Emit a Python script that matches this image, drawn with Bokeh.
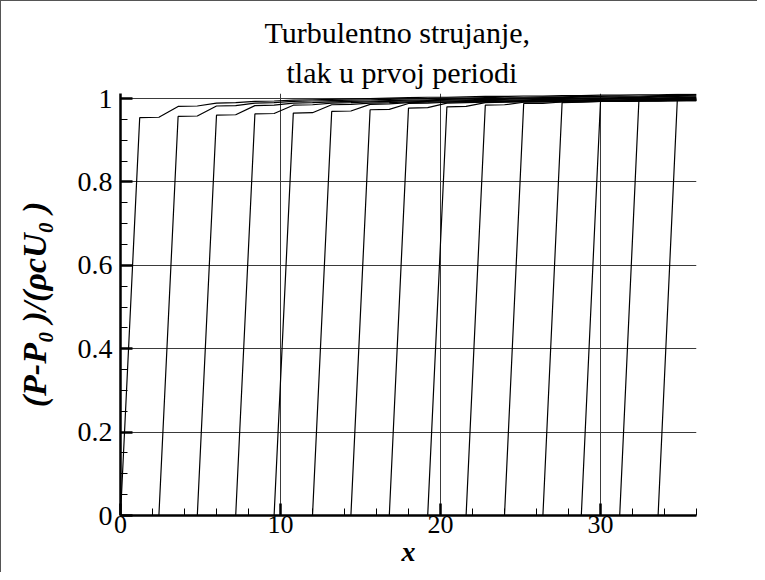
from bokeh.plotting import figure
from bokeh.models import Range1d, FixedTicker, Title
from bokeh.embed import file_html
from bokeh.resources import INLINE

# ---------------- data ----------------
X_GRID = [0.0, 1.2, 2.4, 3.6, 4.8, 6.0, 7.2, 8.4, 9.6, 10.8, 12.0, 13.2, 14.4,
          15.6, 16.8, 18.0, 19.2, 20.4, 21.6, 22.8, 24.0, 25.2, 26.4, 27.6,
          28.8, 30.0, 31.2, 32.4, 33.6, 34.8, 36.0]

# x position where each pressure front starts (value 0 there)
FRONT_X = [0.0, 2.4, 4.8, 7.2, 9.6, 12.0, 14.4, 16.8, 19.2, 21.6, 24.0,
           26.4, 28.8, 31.2, 33.6]

P_01 = [0, 0.954, 0.955, 0.981, 0.982, 0.989, 0.990, 0.993, 0.994, 0.996, 0.997,
        0.998, 0.999, 1.000, 1.001, 1.002, 1.003, 1.003, 1.004, 1.005, 1.005,
        1.006, 1.006, 1.007, 1.007, 1.008, 1.008, 1.009, 1.009, 1.010, 1.010]
P_02 = [0, 0.957, 0.958, 0.982, 0.983, 0.989, 0.990, 0.993, 0.994, 0.995, 0.996,
        0.997, 0.998, 0.999, 1.000, 1.001, 1.001, 1.002, 1.003, 1.003, 1.004,
        1.004, 1.005, 1.005, 1.006, 1.006, 1.007, 1.007, 1.008]
P_03 = [0, 0.960, 0.961, 0.983, 0.984, 0.989, 0.990, 0.992, 0.993, 0.994, 0.995,
        0.996, 0.997, 0.998, 0.999, 1.000, 1.000, 1.001, 1.002, 1.002, 1.003,
        1.003, 1.004, 1.004, 1.005, 1.005, 1.006]
P_04 = [0, 0.963, 0.964, 0.984, 0.985, 0.989, 0.990, 0.992, 0.993, 0.994, 0.995,
        0.996, 0.997, 0.998, 0.998, 0.999, 1.000, 1.000, 1.001, 1.001, 1.002,
        1.002, 1.003, 1.003, 1.004]
P_05 = [0, 0.965, 0.966, 0.985, 0.986, 0.989, 0.990, 0.992, 0.993, 0.994, 0.995,
        0.995, 0.996, 0.997, 0.998, 0.998, 0.999, 1.000, 1.000, 1.001, 1.001,
        1.002, 1.002]
P_06 = [0, 0.969, 0.970, 0.986, 0.987, 0.990, 0.991, 0.992, 0.993, 0.994, 0.994,
        0.995, 0.996, 0.997, 0.997, 0.998, 0.999, 0.999, 1.000, 1.000, 1.001]
P_07 = [0, 0.973, 0.974, 0.988, 0.989, 0.991, 0.992, 0.993, 0.993, 0.994, 0.995,
        0.995, 0.996, 0.997, 0.997, 0.998, 0.998, 0.999, 1.000]
P_08 = [0, 0.977, 0.978, 0.989, 0.990, 0.991, 0.992, 0.993, 0.993, 0.994, 0.995,
        0.995, 0.996, 0.996, 0.997, 0.998, 0.998]
P_09 = [0, 0.980, 0.981, 0.990, 0.991, 0.992, 0.992, 0.993, 0.994, 0.994, 0.995,
        0.995, 0.996, 0.996, 0.997]
P_10 = [0, 0.984, 0.985, 0.991, 0.992, 0.992, 0.993, 0.993, 0.994, 0.994, 0.995,
        0.995, 0.996]
P_11 = [0, 0.988, 0.988, 0.992, 0.992, 0.993, 0.993, 0.994, 0.994, 0.995, 0.995]
P_12 = [0, 0.990, 0.991, 0.993, 0.993, 0.994, 0.994, 0.995, 0.995]
P_13 = [0, 0.993, 0.993, 0.995, 0.995, 0.996, 0.996]
P_14 = [0, 0.995, 0.995, 0.996, 0.997]
P_15 = [0, 0.996, 0.997]

CURVES = [P_01, P_02, P_03, P_04, P_05, P_06, P_07, P_08, P_09, P_10,
          P_11, P_12, P_13, P_14, P_15]

X_MAJOR = [0, 10, 20, 30]
X_MINOR = [2, 4, 6, 8, 12, 14, 16, 18, 22, 24, 26, 28, 32, 34, 36]
Y_MAJOR = [0, 0.2, 0.4, 0.6, 0.8, 1]
Y_MINOR = [0.05, 0.1, 0.15, 0.25, 0.3, 0.35, 0.45, 0.5, 0.55, 0.65, 0.7, 0.75,
           0.85, 0.9, 0.95]
Y_LABELS = {0: "0", 0.2: "0.2", 0.4: "0.4", 0.6: "0.6", 0.8: "0.8", 1: "1"}

TITLE_1 = "Turbulentno strujanje,"
TITLE_2 = "tlak u prvoj periodi"
X_LABEL = "x"
Y_LABEL = "(P-P\u2080 )/(\u03c1cU\u2080 )"

# ---------------- figure ----------------
FONT = "'Liberation Serif', 'Times New Roman', serif"

p = figure(width=757, height=572, output_backend="svg", toolbar_location=None,
           x_range=Range1d(0, 36), y_range=Range1d(0, 1.012),
           min_border_left=119, min_border_right=62, min_border_top=92,
           min_border_bottom=58)
p.styles = {"border-left": "1px solid #555555", "border-top": "1px solid #555555"}
p.outline_line_color = None
p.background_fill_color = "white"
p.border_fill_color = "white"

p.add_layout(Title(text=TITLE_2, align="left", text_font=FONT,
                   text_font_size="30px", text_font_style="normal",
                   text_color="black", standoff=10, offset=166), "above")
p.add_layout(Title(text=TITLE_1, align="left", text_font=FONT,
                   text_font_size="30px", text_font_style="normal",
                   text_color="black", standoff=0, offset=144), "above")

xa = p.xaxis[0]
ya = p.yaxis[0]
xa.ticker = FixedTicker(ticks=X_MAJOR, minor_ticks=X_MINOR)
ya.ticker = FixedTicker(ticks=Y_MAJOR, minor_ticks=Y_MINOR)
ya.major_label_overrides = Y_LABELS

for ax in (xa, ya):
    ax.axis_line_width = 2.5
    ax.axis_line_color = "black"
    ax.major_tick_in = 12
    ax.major_tick_out = 0
    ax.minor_tick_in = 7
    ax.minor_tick_out = 0
    ax.major_tick_line_width = 2.5
    ax.minor_tick_line_width = 1
    ax.major_tick_line_color = "black"
    ax.minor_tick_line_color = "black"
    ax.major_label_text_font = FONT
    ax.major_label_text_color = "black"
    ax.axis_label_text_font = FONT
    ax.axis_label_text_font_style = "bold italic"
    ax.axis_label_text_color = "black"

xa.major_label_text_font_size = "26px"
ya.major_label_text_font_size = "28px"
xa.axis_label_text_font_size = "28px"
ya.axis_label_text_font_size = "34px"

xa.axis_label = X_LABEL
ya.axis_label = Y_LABEL
xa.major_label_standoff = 0
xa.axis_label_standoff = 0
ya.major_label_standoff = 8
ya.axis_label_standoff = 22
ya.major_label_orientation = "horizontal"

p.xgrid.grid_line_color = "#3a3a3a"
p.ygrid.grid_line_color = "#3a3a3a"
p.xgrid.grid_line_width = 1
p.ygrid.grid_line_width = 1

for x0, ys in zip(FRONT_X, CURVES):
    xs = [x for x in X_GRID if x >= x0 - 1e-9][:len(ys)]
    p.line(xs, ys, line_color="black", line_width=1.2)

open("out.html", "w").write(file_html(p, INLINE))
